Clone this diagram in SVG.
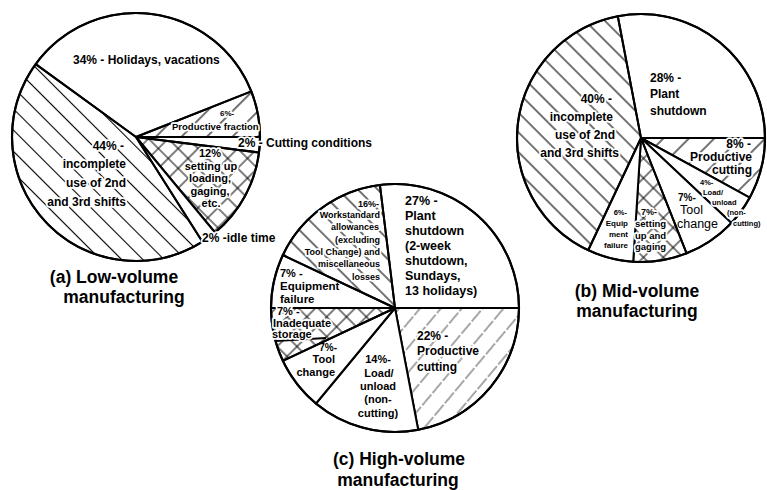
<svg xmlns="http://www.w3.org/2000/svg" width="767" height="490" viewBox="0 0 767 490">
  <defs>
    <!-- back-slash hatch (down-right lines) -->
    <pattern id="hatchBack" width="15" height="15" patternUnits="userSpaceOnUse" patternTransform="rotate(45)">
      <line x1="0" y1="7.5" x2="15" y2="7.5" stroke="#000" stroke-width="1.1"/>
    </pattern>
    <pattern id="hatchBack2" width="14" height="14" patternUnits="userSpaceOnUse" patternTransform="rotate(45)">
      <line x1="0" y1="7" x2="14" y2="7" stroke="#000" stroke-width="1.1"/>
    </pattern>
    <!-- forward-slash hatch (up-right lines) -->
    <pattern id="hatchFwd" width="18" height="18" patternUnits="userSpaceOnUse" patternTransform="rotate(-45)">
      <line x1="0" y1="9" x2="18" y2="9" stroke="#000" stroke-width="1.1"/>
    </pattern>
    <pattern id="hatchFine" width="16" height="16" patternUnits="userSpaceOnUse" patternTransform="rotate(-50)">
      <line x1="0" y1="8" x2="16" y2="8" stroke="#222" stroke-width="0.8" stroke-dasharray="7 2"/>
    </pattern>
    <!-- cross hatch -->
    <pattern id="cross" width="14" height="14" patternUnits="userSpaceOnUse" patternTransform="rotate(45)">
      <line x1="0" y1="7" x2="14" y2="7" stroke="#000" stroke-width="1"/>
      <line x1="7" y1="0" x2="7" y2="14" stroke="#000" stroke-width="1"/>
    </pattern>
    <style>
      .edge { stroke: #000; stroke-width: 2; stroke-linejoin: round; }
      .rim { fill: none; stroke: #000; stroke-width: 2.2; }
      .w { fill: #fff; }
      .t { font-family: "Liberation Sans", Arial, Helvetica, sans-serif; font-weight: bold; fill: #000; }
      .r { font-weight: normal; }
      .h { stroke: #fff; stroke-width: 3.5; stroke-linejoin: round; paint-order: stroke; }
      .s12 { font-size: 12px; }
      .s11 { font-size: 11px; }
      .s9 { font-size: 9px; }
      .s8 { font-size: 8px; }
      .title { font-size: 17.5px; text-anchor: middle; }
      .e { text-anchor: end; }
      .m { text-anchor: middle; }
    </style>
  </defs>

  <rect width="767" height="490" fill="#fff"/>

  <!-- (a) Low-volume manufacturing -->
  <g id="pie-a">
    <path class="edge w" d="M136,137 L35.7,64.1 A124,124 0 0,1 251.3,91.4 Z"/>
    <path class="edge" fill="url(#hatchFwd)" d="M136,137 L251.3,91.4 A124,124 0 0,1 260,137 Z"/>
    <path class="edge w" d="M136,137 L260,137 A124,124 0 0,1 259,152.5 Z"/>
    <path class="edge" fill="url(#cross)" d="M136,137 L259,152.5 A124,124 0 0,1 215,232.5 Z"/>
    <path class="edge w" d="M136,137 L215,232.5 A124,124 0 0,1 202.4,241.7 Z"/>
    <path class="edge" fill="url(#hatchBack)" d="M136,137 L202.4,241.7 A124,124 0 0,1 35.7,64.1 Z"/>
    <circle class="rim" cx="136" cy="137" r="124"/>

    <text class="t s12" x="73" y="64">34% - Holidays, vacations</text>
    <text class="t s8 h" x="220" y="116">6%-</text>
    <text class="t h" font-size="9.5" x="172" y="130">Productive fraction</text>
    <text class="t s12 h" x="238" y="147">2% - Cutting conditions</text>
    <text class="t s12 h e" x="124" y="150">44% -</text>
    <text class="t s12 h e" x="126" y="168">incomplete</text>
    <text class="t s12 h e" x="126" y="187">use of 2nd</text>
    <text class="t s12 h e" x="126" y="206">and 3rd shifts</text>
    <text class="t s11 h m" x="210" y="157">12%</text>
    <text class="t s11 h m" x="211" y="169.5">setting up</text>
    <text class="t s11 h m" x="210" y="182">loading,</text>
    <text class="t s11 h m" x="210" y="194.5">gaging,</text>
    <text class="t s11 h m" x="211" y="207">etc.</text>
    <text class="t s12 h" x="202" y="242">2% -idle time</text>

    <text class="t title" x="114" y="283">(a) Low-volume</text>
    <text class="t title" x="124" y="303">manufacturing</text>
  </g>

  <!-- (b) Mid-volume manufacturing -->
  <g id="pie-b">
    <path class="edge w" d="M641,138 L617.8,16.2 A124,124 0 0,1 765,138 Z"/>
    <path class="edge" fill="url(#hatchFwd)" d="M641,138 L765,138 A124,124 0 0,1 749.7,197.7 Z"/>
    <path class="edge w" d="M641,138 L749.7,197.7 A124,124 0 0,1 731.4,222.9 Z"/>
    <path class="edge w" d="M641,138 L731.4,222.9 A124,124 0 0,1 686.6,253.3 Z"/>
    <path class="edge" fill="url(#cross)" d="M641,138 L686.6,253.3 A124,124 0 0,1 633.2,261.8 Z"/>
    <path class="edge w" d="M641,138 L633.2,261.8 A124,124 0 0,1 588.2,250.2 Z"/>
    <path class="edge" fill="url(#hatchBack2)" d="M641,138 L588.2,250.2 A124,124 0 0,1 617.8,16.2 Z"/>
    <circle class="rim" cx="641" cy="138" r="124"/>

    <text class="t s12" x="650" y="82">28% -</text>
    <text class="t s12" x="650" y="98">Plant</text>
    <text class="t s12" x="650" y="115">shutdown</text>
    <text class="t s12 h e" x="612" y="103">40% -</text>
    <text class="t s12 h e" x="613" y="121">incomplete</text>
    <text class="t s12 h e" x="615" y="139">use of 2nd</text>
    <text class="t s12 h e" x="619" y="157">and 3rd shifts</text>
    <text class="t s12 h e" x="751" y="148">8% -</text>
    <text class="t s12 h e" x="752" y="161">Productive</text>
    <text class="t s12 h e" x="752" y="174">cutting</text>
    <text class="t h" font-size="7.5" x="700" y="185">4%-</text>
    <text class="t h" font-size="7.5" x="703" y="195">Load/</text>
    <text class="t h" font-size="7.5" x="712" y="205">unload</text>
    <text class="t h" font-size="7.5" x="727" y="215">(non-</text>
    <text class="t h" font-size="7.5" x="733" y="226">cutting)</text>
    <text class="t" font-size="10" x="678" y="201">7%-</text>
    <text class="t r" font-size="12.5" x="680" y="214">Tool</text>
    <text class="t r" font-size="12.5" x="677" y="228">change</text>
    <text class="t s9 h" x="641" y="215">7%-</text>
    <text class="t h" font-size="9.5" x="635" y="227">setting</text>
    <text class="t h" font-size="9.5" x="635" y="239">up and</text>
    <text class="t h" font-size="9.5" x="635" y="250">gaging</text>
    <text class="t h e" font-size="7.5" x="627" y="215">6%-</text>
    <text class="t s8 h e" x="628" y="226">Equip</text>
    <text class="t s8 h e" x="628" y="237">ment</text>
    <text class="t s8 h e" x="628" y="248">failure</text>

    <text class="t title" x="637" y="297">(b) Mid-volume</text>
    <text class="t title" x="637" y="317">manufacturing</text>
  </g>

  <!-- (c) High-volume manufacturing -->
  <g id="pie-c">
    <path class="edge w" d="M395,308 L379.9,184.9 A124,124 0 0,1 519,308 Z"/>
    <path class="edge" fill="url(#hatchFine)" d="M395,308 L519,308 A124,124 0 0,1 418.2,429.8 Z"/>
    <path class="edge w" d="M395,308 L418.2,429.8 A124,124 0 0,1 316,403.5 Z"/>
    <path class="edge w" d="M395,308 L316,403.5 A124,124 0 0,1 282.8,360.8 Z"/>
    <path class="edge" fill="url(#cross)" d="M395,308 L282.8,360.8 A124,124 0 0,1 271,308 Z"/>
    <path class="edge w" d="M395,308 L271,308 A124,124 0 0,1 282.8,255.2 Z"/>
    <path class="edge" fill="url(#hatchBack2)" d="M395,308 L282.8,255.2 A124,124 0 0,1 379.9,184.9 Z"/>
    <line class="edge" x1="275.5" y1="341" x2="326" y2="338"/>
    <circle class="rim" cx="395" cy="308" r="124"/>

    <text class="t s9 h e" x="379" y="207">16%-</text>
    <text class="t s9 h e" x="380" y="218">Workstandard</text>
    <text class="t s9 h e" x="379" y="230">allowances</text>
    <text class="t s9 h e" x="380" y="243">(excluding</text>
    <text class="t s9 h e" x="380" y="255">Tool Change) and</text>
    <text class="t s9 h e" x="380" y="267">miscellaneous</text>
    <text class="t s9 h e" x="380" y="280">losses</text>
    <text class="t s11" x="280" y="277">7% -</text>
    <text class="t" font-size="11.5" x="280" y="290">Equipment</text>
    <text class="t" font-size="11.5" x="280" y="303">failure</text>
    <text class="t s11 h" x="277" y="315">7% -</text>
    <text class="t s11 h" x="273" y="327">Inadequate</text>
    <text class="t s11 h" x="272" y="338">storage</text>
    <text class="t e" font-size="10" x="337" y="351">7%-</text>
    <text class="t s11 e" x="335" y="363">Tool</text>
    <text class="t s11 e" x="335" y="376">change</text>
    <text class="t s11 m" x="378" y="363">14%-</text>
    <text class="t s11 m" x="379" y="377">Load/</text>
    <text class="t s11 m" x="378" y="390">unload</text>
    <text class="t s11 m" x="378" y="403">(non-</text>
    <text class="t s11 m" x="378" y="417">cutting)</text>
    <text class="t s12 h" x="417" y="340">22% -</text>
    <text class="t s12 h" x="417" y="355">Productive</text>
    <text class="t s12 h" x="417" y="371">cutting</text>
    <text class="t" font-size="12.5" x="405" y="205">27% -</text>
    <text class="t" font-size="12.5" x="405" y="220">Plant</text>
    <text class="t" font-size="12.5" x="405" y="235">shutdown</text>
    <text class="t" font-size="12.5" x="405" y="250">(2-week</text>
    <text class="t" font-size="12.5" x="405" y="265">shutdown,</text>
    <text class="t" font-size="12.5" x="405" y="280">Sundays,</text>
    <text class="t" font-size="12.5" x="405" y="295">13 holidays)</text>

    <text class="t title" font-size="20" x="399" y="465">(c) High-volume</text>
    <text class="t title" font-size="20" x="398" y="486">manufacturing</text>
  </g>
</svg>
